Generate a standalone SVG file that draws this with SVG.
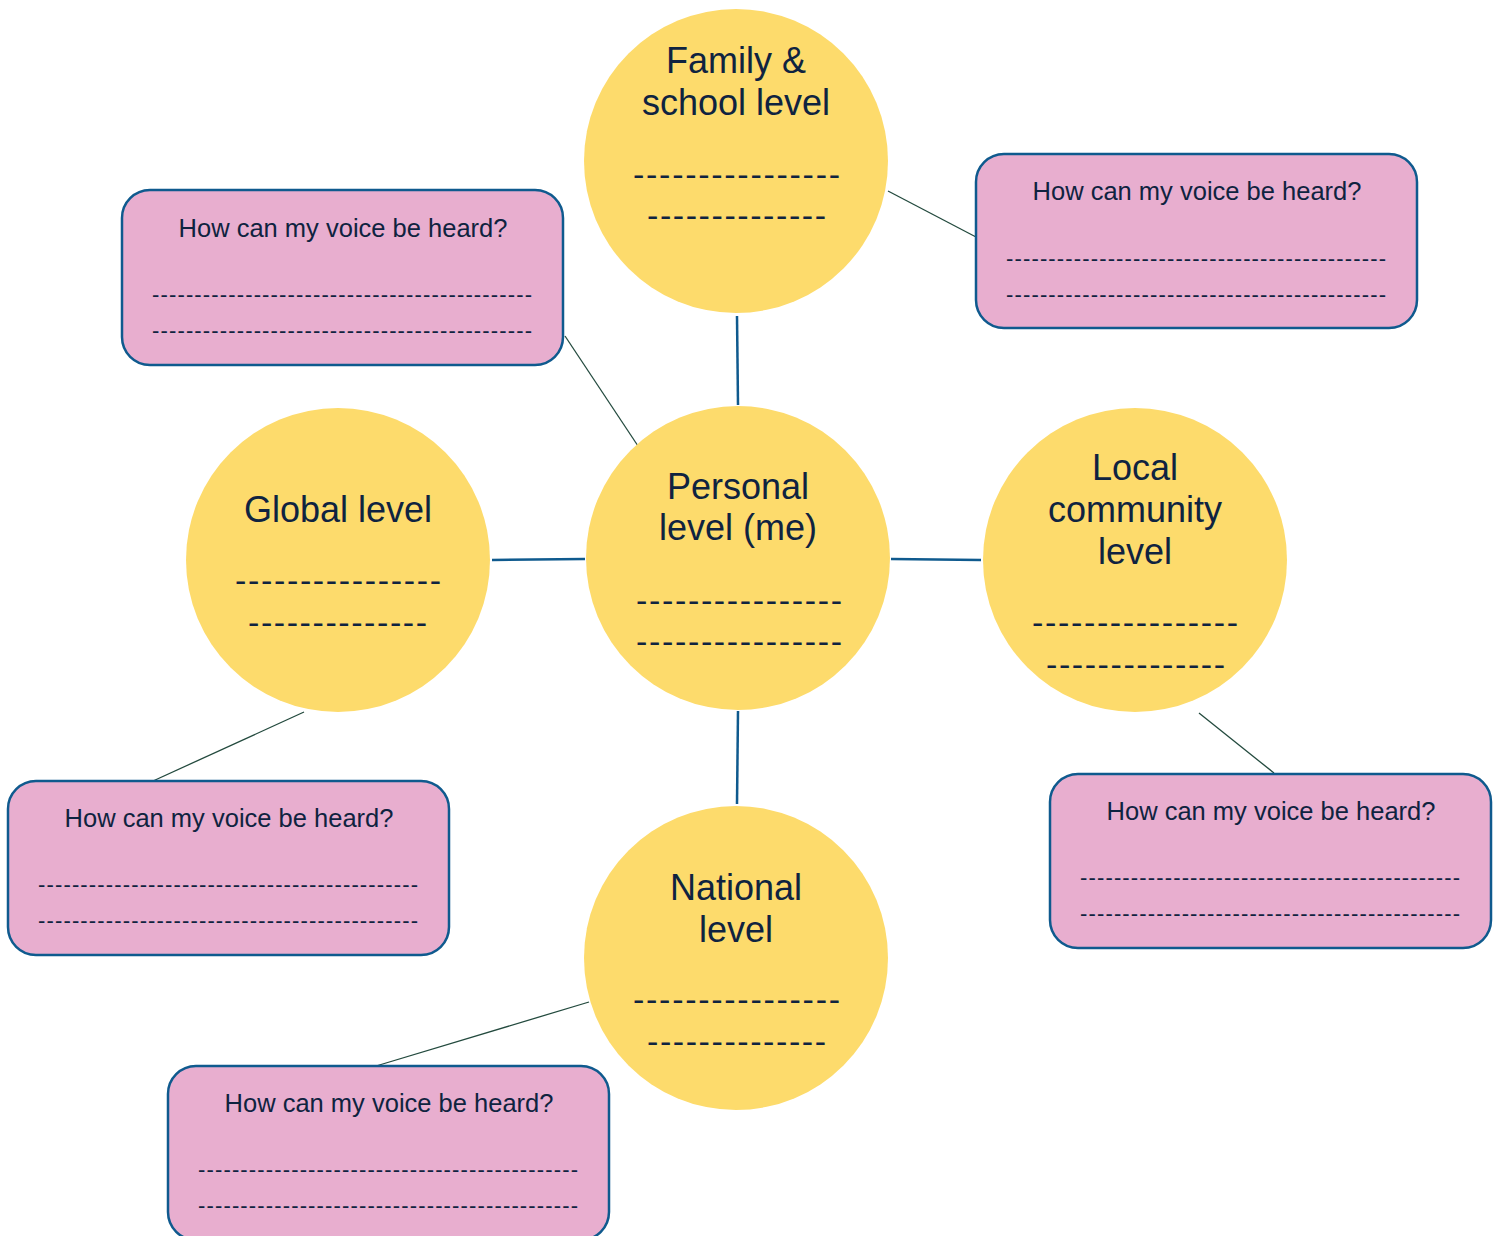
<svg xmlns="http://www.w3.org/2000/svg" width="1501" height="1236" viewBox="0 0 1501 1236">
<style>
.circ{fill:#fddb6c}
.box{fill:#e8aecf;stroke:#0f5a8e;stroke-width:2.5}
.big{font-family:"Liberation Sans",Arial,sans-serif;font-size:36px;fill:#0f2340;text-anchor:middle}
.q{font-family:"Liberation Sans",Arial,sans-serif;font-size:25.5px;fill:#0f2340;text-anchor:middle}
.dl{font-family:"Liberation Sans",sans-serif;font-size:22px;fill:#0f2340}
.db{font-family:"Liberation Sans",sans-serif;font-size:34px;fill:#0f2340}
.main{stroke:#0f5a8e;stroke-width:2.5;fill:none}
.thin{stroke:#234a3e;stroke-width:1.3;fill:none}
</style>
<rect width="1501" height="1236" fill="#ffffff"/>
<g id="connectors">
<line class="main" x1="737" y1="316" x2="738" y2="405"/>
<line class="main" x1="738" y1="711" x2="737" y2="804"/>
<line class="main" x1="492" y1="560" x2="585" y2="559"/>
<line class="main" x1="891" y1="559" x2="981" y2="560"/>
<line class="thin" x1="888" y1="191" x2="976" y2="237"/>
<line class="thin" x1="565" y1="336" x2="642" y2="452"/>
<line class="thin" x1="304" y1="712" x2="153" y2="781"/>
<line class="thin" x1="1199" y1="713" x2="1274" y2="773"/>
<line class="thin" x1="589" y1="1002" x2="376" y2="1066"/>
</g>
<g id="family">
<circle class="circ" cx="736" cy="161" r="152"/>
<text class="big" x="736" y="73">Family &amp;</text>
<text class="big" x="736" y="115">school level</text>
<text class="db" x="633" y="186" textLength="207" lengthAdjust="spacing">----------------</text>
<text class="db" x="647" y="227" textLength="179" lengthAdjust="spacing">--------------</text>
</g>
<g id="personal">
<circle class="circ" cx="738" cy="558" r="152"/>
<text class="big" x="738" y="499">Personal</text>
<text class="big" x="738" y="540">level (me)</text>
<text class="db" x="636" y="612" textLength="206" lengthAdjust="spacing">----------------</text>
<text class="db" x="636" y="653" textLength="206" lengthAdjust="spacing">----------------</text>
</g>
<g id="global">
<circle class="circ" cx="338" cy="560" r="152"/>
<text class="big" x="338" y="522">Global level</text>
<text class="db" x="235" y="592" textLength="206" lengthAdjust="spacing">----------------</text>
<text class="db" x="248" y="634" textLength="179" lengthAdjust="spacing">--------------</text>
</g>
<g id="local">
<circle class="circ" cx="1135" cy="560" r="152"/>
<text class="big" x="1135" y="480">Local</text>
<text class="big" x="1135" y="522">community</text>
<text class="big" x="1135" y="564">level</text>
<text class="db" x="1032" y="634" textLength="206" lengthAdjust="spacing">----------------</text>
<text class="db" x="1046" y="676" textLength="179" lengthAdjust="spacing">--------------</text>
</g>
<g id="national">
<circle class="circ" cx="736" cy="958" r="152"/>
<text class="big" x="736" y="900">National</text>
<text class="big" x="736" y="942">level</text>
<text class="db" x="633" y="1011" textLength="207" lengthAdjust="spacing">----------------</text>
<text class="db" x="647" y="1053" textLength="179" lengthAdjust="spacing">--------------</text>
</g>
<g id="box-family">
<rect class="box" x="976" y="154" width="441" height="174" rx="28"/>
<text class="q" x="1197" y="200">How can my voice be heard?</text>
<text class="dl" x="1006" y="266" textLength="380" lengthAdjust="spacing">---------------------------------------------</text>
<text class="dl" x="1006" y="302" textLength="380" lengthAdjust="spacing">---------------------------------------------</text>
</g>
<g id="box-personal">
<rect class="box" x="122" y="190" width="441" height="175" rx="28"/>
<text class="q" x="343" y="237">How can my voice be heard?</text>
<text class="dl" x="152" y="302" textLength="380" lengthAdjust="spacing">---------------------------------------------</text>
<text class="dl" x="152" y="338" textLength="380" lengthAdjust="spacing">---------------------------------------------</text>
</g>
<g id="box-global">
<rect class="box" x="8" y="781" width="441" height="174" rx="28"/>
<text class="q" x="229" y="827">How can my voice be heard?</text>
<text class="dl" x="38" y="892" textLength="380" lengthAdjust="spacing">---------------------------------------------</text>
<text class="dl" x="38" y="928" textLength="380" lengthAdjust="spacing">---------------------------------------------</text>
</g>
<g id="box-local">
<rect class="box" x="1050" y="774" width="441" height="174" rx="28"/>
<text class="q" x="1271" y="820">How can my voice be heard?</text>
<text class="dl" x="1080" y="885" textLength="380" lengthAdjust="spacing">---------------------------------------------</text>
<text class="dl" x="1080" y="921" textLength="380" lengthAdjust="spacing">---------------------------------------------</text>
</g>
<g id="box-national">
<rect class="box" x="168" y="1066" width="441" height="174" rx="28"/>
<text class="q" x="389" y="1112">How can my voice be heard?</text>
<text class="dl" x="198" y="1177" textLength="380" lengthAdjust="spacing">---------------------------------------------</text>
<text class="dl" x="198" y="1213" textLength="380" lengthAdjust="spacing">---------------------------------------------</text>
</g>
</svg>
